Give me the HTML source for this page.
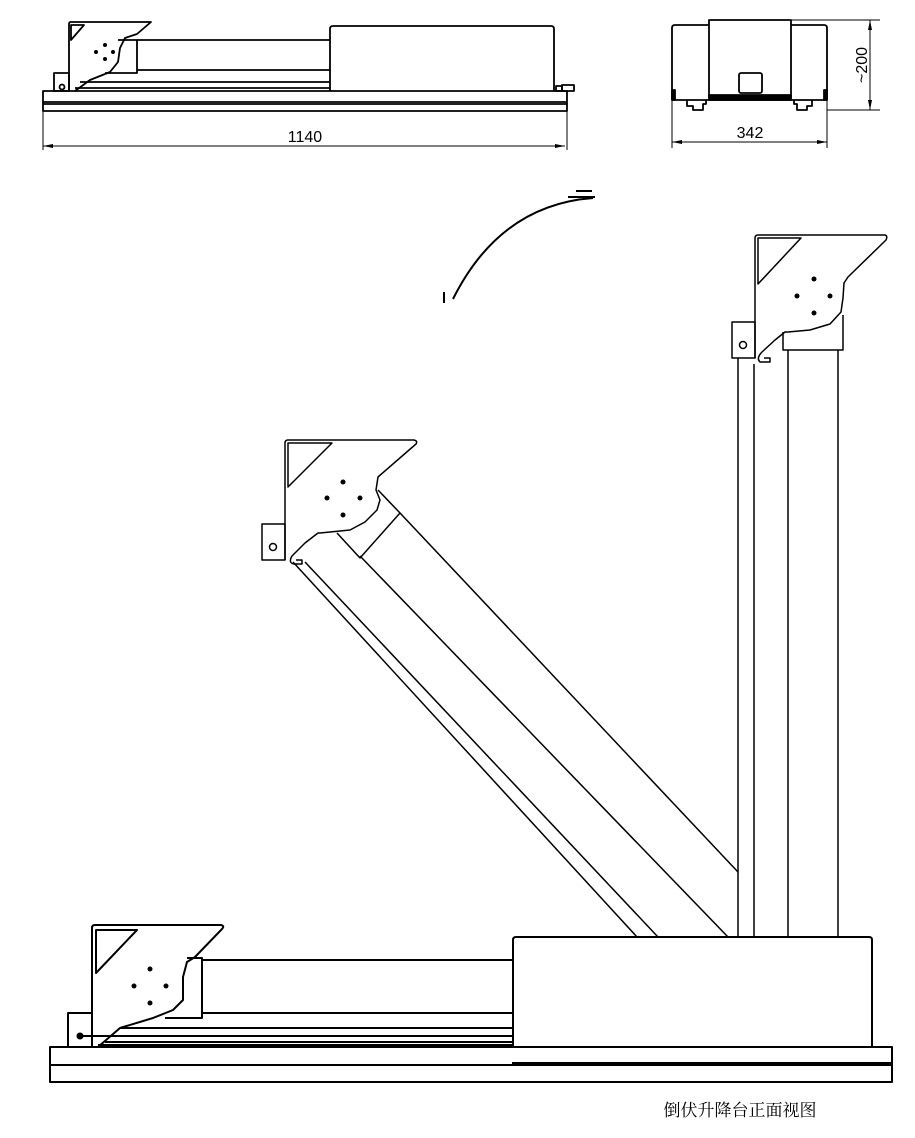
<!DOCTYPE html>
<html><head><meta charset="utf-8"><style>
html,body{margin:0;padding:0;background:#fff;}
svg{display:block;}
</style></head><body>
<svg width="915" height="1138" viewBox="0 0 915 1138" xmlns="http://www.w3.org/2000/svg" fill="none" stroke="#000" stroke-width="1.5" stroke-linejoin="round">
<!-- ===== Top-left small view ===== -->
<g stroke-width="1.8">
<rect x="43" y="91" width="524" height="20"/>
<line x1="43" y1="102" x2="567" y2="102"/>
<line x1="43" y1="104" x2="567" y2="104"/>
<path d="M330 91 V29 Q330 26 333 26 H551 Q554 26 554 29 V91"/>
<line x1="137" y1="40" x2="330" y2="40"/>
<line x1="137" y1="70" x2="330" y2="70"/>
<line x1="80" y1="82" x2="330" y2="82"/>
<line x1="75" y1="88" x2="330" y2="88"/>
<path d="M69 91 V24 Q69 22 71 22 H151 L137 34 L125 38 L120 48 L118 62 L110 72 L90 80 L75 91"/>
<path d="M71 25 H84 L71 40 Z"/>
<path d="M118 40 H137 V73 H105"/>
<rect x="54" y="73" width="15" height="18"/>
<circle cx="62" cy="87" r="2.5"/>
<rect x="556" y="86" width="6" height="5"/>
<rect x="562" y="85" width="12" height="6"/>
</g>
<g fill="#000" stroke="none">
<circle cx="105" cy="45" r="2"/><circle cx="96" cy="52" r="2"/><circle cx="113" cy="52" r="2"/><circle cx="105" cy="59" r="2"/>
</g>
<g stroke-width="1">
<line x1="43" y1="111" x2="43" y2="150"/>
<line x1="567" y1="111" x2="567" y2="150"/>
<line x1="43" y1="146" x2="565" y2="146"/>
</g>
<path d="M43 146 L53 144 L53 148 Z M565 146 L555 144 L555 148 Z" fill="#000" stroke="none"/>
<text x="305" y="142" font-family="Liberation Sans, sans-serif" font-size="16" fill="#000" stroke="none" text-anchor="middle">1140</text>

<!-- ===== Top-right small view ===== -->
<g stroke-width="1.8">
<path d="M672 100 V28 Q672 25 675 25 H709"/>
<path d="M791 25 H824 Q827 25 827 28 V100"/>
<rect x="709" y="20" width="82" height="77"/>
<rect x="739" y="73" width="23" height="20" rx="2"/>
<line x1="672" y1="100" x2="827" y2="100"/>
<rect x="709" y="95" width="82" height="5" fill="#000"/>
<path d="M687 100 V106 H693 V110 H703 V104 H706 V100"/>
<path d="M794 100 V104 H797 V110 H807 V106 H812 V100"/>
<rect x="672" y="90" width="3" height="10" fill="#000"/>
<rect x="824" y="90" width="3" height="10" fill="#000"/>
</g>
<g stroke-width="1">
<line x1="791" y1="20" x2="880" y2="20"/>
<line x1="827" y1="110" x2="880" y2="110"/>
<line x1="870" y1="20" x2="870" y2="110"/>
<line x1="672" y1="100" x2="672" y2="148"/>
<line x1="827" y1="100" x2="827" y2="148"/>
<line x1="672" y1="142" x2="827" y2="142"/>
</g>
<path d="M870 20 L868 30 L872 30 Z M870 110 L868 100 L872 100 Z M672 142 L682 140 L682 144 Z M827 142 L817 140 L817 144 Z" fill="#000" stroke="none"/>
<text x="750" y="138" font-family="Liberation Sans, sans-serif" font-size="16" fill="#000" stroke="none" text-anchor="middle">342</text>
<text transform="translate(867,65) rotate(-90)" font-family="Liberation Sans, sans-serif" font-size="16" fill="#000" stroke="none" text-anchor="middle">~200</text>

<!-- ===== arc ===== -->
<path d="M453 299 Q500 205 593 198" stroke-width="2"/>
<line x1="576" y1="191" x2="592" y2="191" stroke-width="2"/>
<line x1="568" y1="197" x2="595" y2="197" stroke-width="2"/>
<line x1="444" y1="292" x2="444" y2="303" stroke-width="2"/>

<!-- ===== Vertical post ===== -->
<g stroke-width="1.5">
<line x1="738" y1="358" x2="738" y2="937"/>
<line x1="754" y1="364" x2="754" y2="937"/>
<line x1="788" y1="350" x2="788" y2="937"/>
<line x1="838" y1="350" x2="838" y2="937"/>
<path d="M783 332 V350 H843 V315"/>
<path d="M755 358 V238 Q755 235 758 235 H885 Q888 236 886 240 L848 277 L844 283 L843 298 L841 312 L830 324 L810 330 L788 332 L785 332 L775 340 L762 352 Q756 358 760 362 H770 V358 H764"/>
<path d="M758 238 H801 L758 284 Z"/>
<rect x="732" y="322" width="23" height="36"/>
<circle cx="743" cy="345" r="3.5"/>
</g>
<g fill="#000" stroke="none">
<circle cx="814" cy="279" r="2.5"/><circle cx="797" cy="296" r="2.5"/><circle cx="830" cy="296" r="2.5"/><circle cx="814" cy="313" r="2.5"/>
</g>

<!-- ===== Diagonal arm ===== -->
<g stroke-width="1.5">
<line x1="293" y1="562" x2="637" y2="937"/>
<line x1="305" y1="562" x2="658" y2="937"/>
<line x1="360" y1="556" x2="728" y2="937"/>
<line x1="400" y1="513" x2="738" y2="872"/>
<path d="M378 490 L400 513 L360 558 L337 533"/>
<path d="M285 560 V443 Q285 440 288 440 H414 Q418 441 416 444 L378 477 L376 490 L380 500 L377 510 L365 522 L350 530 L320 533 L318 533 L305 543 L292 556 Q288 563 294 564 H302 V560 H296"/>
<path d="M288 443 H332 L288 487 Z"/>
<rect x="262" y="524" width="23" height="36"/>
<circle cx="273" cy="547" r="3.5"/>
</g>
<g fill="#000" stroke="none">
<circle cx="343" cy="482" r="2.5"/><circle cx="327" cy="498" r="2.5"/><circle cx="360" cy="498" r="2.5"/><circle cx="343" cy="515" r="2.5"/>
</g>

<!-- ===== Bottom base ===== -->
<g stroke-width="2">
<rect x="50" y="1047" width="842" height="35"/>
<line x1="50" y1="1065" x2="892" y2="1065"/>
<rect x="512" y="1062" width="380" height="4" fill="#000" stroke="none"/>
<path d="M513 1047 V940 Q513 937 516 937 H869 Q872 937 872 940 V1047"/>
<line x1="202" y1="960" x2="513" y2="960"/>
<line x1="202" y1="1013" x2="513" y2="1013"/>
<line x1="120" y1="1028" x2="513" y2="1028"/>
<line x1="80" y1="1036" x2="513" y2="1036"/>
<line x1="105" y1="1042" x2="513" y2="1042"/>
<rect x="98" y="1044" width="415" height="3" fill="#000" stroke="none"/>
<path d="M92 1047 V928 Q92 925 95 925 H221 Q225 926 222 929 L195 957 L187 962 L183 977 L183 1000 L173 1010 L153 1018 L120 1028 L98 1047"/>
<path d="M96 930 H137 L96 973 Z"/>
<path d="M187 958 H202 V1018 H165"/>
<rect x="68" y="1013" width="24" height="34"/>
</g>
<circle cx="80" cy="1036" r="3.5" fill="#000" stroke="none"/>
<g fill="#000" stroke="none">
<circle cx="150" cy="969" r="2.5"/><circle cx="134" cy="986" r="2.5"/><circle cx="166" cy="986" r="2.5"/><circle cx="150" cy="1003" r="2.5"/>
</g>

<text x="740" y="1116" font-family="Liberation Serif, 'Noto Serif CJK SC', serif" font-size="17" fill="#000" stroke="none" text-anchor="middle">倒伏升降台正面视图</text>
</svg>
</body></html>
